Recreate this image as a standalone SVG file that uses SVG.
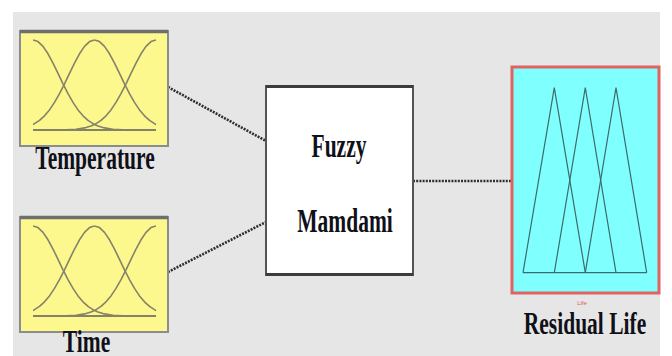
<svg xmlns="http://www.w3.org/2000/svg" xmlns:xlink="http://www.w3.org/1999/xlink" width="672" height="356" viewBox="0 0 672 356">
<style>
.lbl{font-family:"Liberation Serif","Times New Roman",serif;font-weight:bold;font-size:21.5px;fill:#101018;text-anchor:middle}
.inbox{fill:#fcf88e;stroke:#8c8c8c;stroke-width:2}
.intop{stroke:#6e6e6e;stroke-width:3.5}
.gauss{fill:none;stroke:#85826a;stroke-width:1.6;stroke-linejoin:round}
.conn{stroke:#2e2e2e;stroke-width:2.6;stroke-dasharray:2 1.2;fill:none}
.tri{fill:none;stroke:#3d6c6c;stroke-width:1.2}
</style>
<defs>
<path id="gR" d="M0,-90 L5,-88.4 L10,-83.6 L15,-76.2 L20,-66.9 L25,-56.7 L30,-46.2 L35,-36.4 L40,-27.6 L45,-20.1 L50,-14.2 L55,-9.6 L60,-6.3 L65,-4 L70,-2.4 L80,-0.8 L90,-0.2 L125,0"/>
<clipPath id="inclip" clipPathUnits="userSpaceOnUse"><rect x="13" y="0" width="123" height="115"/></clipPath>
<g id="mfs">
<rect class="inbox" x="0" y="0" width="148" height="115"/>
<line class="intop" x1="0" y1="0.5" x2="148" y2="0.5"/>
<g clip-path="url(#inclip)" class="gauss">
<use xlink:href="#gR" transform="translate(13,99)"/>
<use xlink:href="#gR" transform="translate(74.5,99)"/>
<use xlink:href="#gR" transform="translate(74.5,99) scale(-1,1)"/>
<use xlink:href="#gR" transform="translate(136,99) scale(-1,1)"/>
<line x1="13" y1="99" x2="136" y2="99" stroke-width="2"/>
</g>
</g>
</defs>
<rect x="0" y="0" width="672" height="356" fill="#ffffff"/>
<rect x="13" y="12" width="647" height="344" fill="#e6e6e6"/>
<g id="connectors">
<line class="conn" x1="168" y1="87" x2="266" y2="141"/>
<line class="conn" x1="168" y1="272" x2="266" y2="222"/>
<line class="conn" x1="413" y1="181" x2="511" y2="181"/>
</g>
<g id="temperature">
<use xlink:href="#mfs" transform="translate(20,31)"/>
<text class="lbl" transform="translate(95,169) scale(1,1.55)">Temperature</text>
</g>
<g id="time">
<use xlink:href="#mfs" transform="translate(20,217)"/>
<text class="lbl" transform="translate(86.5,352) scale(1,1.45)">Time</text>
</g>
<g id="fuzzy">
<rect x="266" y="86" width="147" height="189" fill="#ffffff" stroke="#555555" stroke-width="2"/>
<line x1="266" y1="86.5" x2="413" y2="86.5" stroke="#3c3c3c" stroke-width="3"/>
<line x1="266" y1="274.5" x2="413" y2="274.5" stroke="#3c3c3c" stroke-width="3"/>
<text class="lbl" transform="translate(339,157) scale(1,1.55)">Fuzzy</text>
<text class="lbl" transform="translate(345,232) scale(1,1.55)">Mamdami</text>
</g>
<g id="residual-life">
<rect x="512" y="67" width="147" height="226" fill="#80ffff" stroke="#e06262" stroke-width="3"/>
<polyline class="tri" points="523,272.7 554.3,87.7 585.3,272.7"/>
<polyline class="tri" points="554.3,272.7 585.3,87.7 616,272.7"/>
<polyline class="tri" points="585.3,272.7 616,87.7 646.7,272.7"/>
<line class="tri" x1="523" y1="272.7" x2="646.7" y2="272.7" stroke-width="1.6"/>
<text x="582" y="305" font-family="Liberation Sans, Arial, sans-serif" font-size="6" fill="#e05a5a" text-anchor="middle">Life</text>
<text class="lbl" transform="translate(585,334) scale(1,1.5)">Residual Life</text>
</g>
</svg>
